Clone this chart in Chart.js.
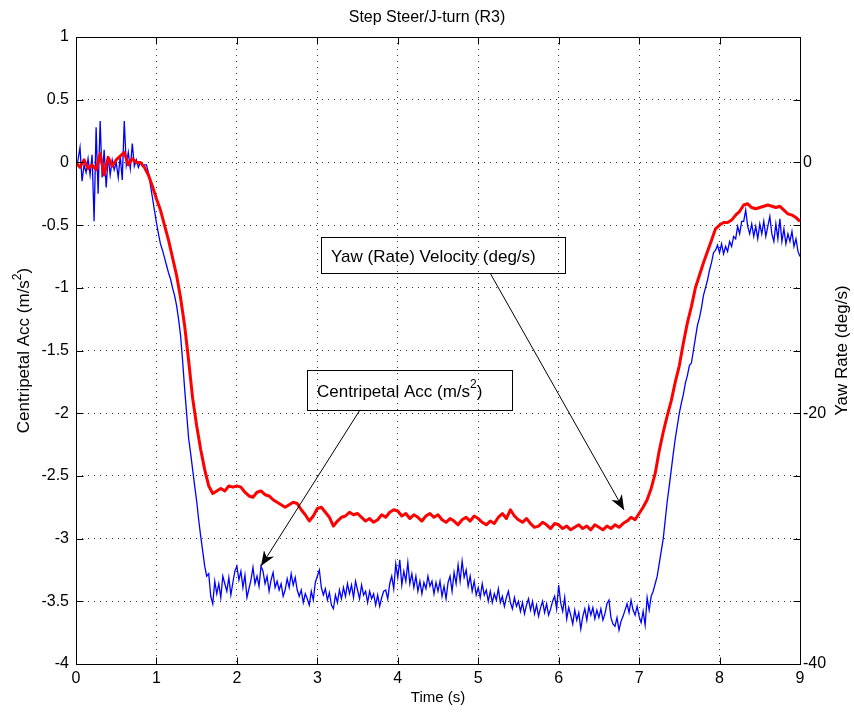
<!DOCTYPE html>
<html><head><meta charset="utf-8">
<script src="https://cdn.jsdelivr.net/npm/chart.js@4"></script>
<style>html,body{margin:0;padding:0;background:#fff}canvas{display:block}</style>
</head><body>
<canvas id="c" width="854" height="715"></canvas>
<script>
// ---------- data ----------
const chartTitle = 'Step Steer/J-turn (R3)';
const xTitle = 'Time (s)';
const yTitleParts = [{t:'Centripetal Acc (m/s'},{t:'2',sup:true},{t:')'}];
const y2Title = 'Yaw Rate (deg/s)';

const timeTicks = [0,1,2,3,4,5,6,7,8,9];
const accTicks = [-4,-3.5,-3,-2.5,-2,-1.5,-1,-0.5,0,0.5,1];
const yawTicks = [-40,-20,0];

// sampling intervals (s) of the two recorded channels
const accStep = 0.025;
const yawStep = 0.05;

// centripetal acceleration (m/s^2), one value every accStep seconds from t = 0
const accValues = [
-0.05,0.02,0.12,-0.15,-0.02,-0.08,0.03,-0.1,0.06,-0.47,0.28,-0.25,0.33,-0.12,0.1,-0.2,0.05,-0.1,0.02,-0.06,
0.0,-0.12,0.05,-0.14,0.33,-0.02,0.08,-0.05,0.15,-0.03,0.02,-0.04,0.0,-0.03,-0.02,-0.02,-0.08,-0.18,-0.28,-0.38,
-0.48,-0.57,-0.65,-0.7,-0.76,-0.82,-0.88,-0.93,-1.0,-1.06,-1.14,-1.25,-1.38,-1.58,-1.8,-2.0,-2.2,-2.32,-2.45,-2.58,
-2.7,-2.85,-2.98,-3.1,-3.22,-3.3,-3.28,-3.46,-3.52,-3.34,-3.44,-3.36,-3.47,-3.3,-3.36,-3.42,-3.31,-3.45,-3.35,-3.26,
-3.22,-3.33,-3.26,-3.39,-3.29,-3.47,-3.4,-3.33,-3.23,-3.36,-3.3,-3.38,-3.22,-3.26,-3.36,-3.3,-3.42,-3.33,-3.27,-3.39,
-3.34,-3.41,-3.36,-3.46,-3.41,-3.32,-3.39,-3.28,-3.37,-3.31,-3.41,-3.46,-3.41,-3.51,-3.44,-3.48,-3.53,-3.42,-3.49,-3.35,
-3.3,-3.25,-3.39,-3.45,-3.4,-3.49,-3.43,-3.53,-3.56,-3.45,-3.51,-3.41,-3.48,-3.39,-3.46,-3.36,-3.44,-3.37,-3.47,-3.34,
-3.41,-3.48,-3.37,-3.45,-3.42,-3.51,-3.42,-3.48,-3.44,-3.53,-3.45,-3.54,-3.47,-3.42,-3.41,-3.48,-3.36,-3.3,-3.4,-3.2,
-3.31,-3.17,-3.37,-3.26,-3.34,-3.19,-3.36,-3.28,-3.39,-3.3,-3.42,-3.34,-3.44,-3.35,-3.4,-3.3,-3.38,-3.34,-3.44,-3.35,
-3.42,-3.34,-3.46,-3.38,-3.48,-3.35,-3.3,-3.42,-3.27,-3.36,-3.21,-3.34,-3.18,-3.31,-3.25,-3.38,-3.3,-3.42,-3.34,-3.45,
-3.39,-3.47,-3.36,-3.45,-3.41,-3.5,-3.42,-3.51,-3.44,-3.49,-3.4,-3.51,-3.46,-3.54,-3.47,-3.42,-3.51,-3.56,-3.47,-3.54,
-3.5,-3.58,-3.51,-3.6,-3.53,-3.48,-3.57,-3.5,-3.6,-3.53,-3.62,-3.55,-3.5,-3.59,-3.52,-3.61,-3.56,-3.5,-3.46,-3.56,
-3.37,-3.51,-3.58,-3.47,-3.64,-3.55,-3.61,-3.68,-3.57,-3.65,-3.59,-3.72,-3.62,-3.56,-3.65,-3.54,-3.61,-3.55,-3.64,-3.57,
-3.63,-3.56,-3.65,-3.6,-3.52,-3.49,-3.63,-3.68,-3.7,-3.63,-3.73,-3.66,-3.62,-3.57,-3.52,-3.59,-3.49,-3.57,-3.61,-3.54,
-3.62,-3.67,-3.58,-3.69,-3.47,-3.57,-3.46,-3.42,-3.36,-3.3,-3.2,-3.1,-3.0,-2.85,-2.7,-2.58,-2.45,-2.32,-2.2,-2.1,
-2.0,-1.92,-1.85,-1.76,-1.7,-1.62,-1.6,-1.5,-1.4,-1.3,-1.24,-1.16,-1.06,-1.0,-0.94,-0.86,-0.8,-0.72,-0.7,-0.66,
-0.72,-0.65,-0.73,-0.67,-0.71,-0.63,-0.67,-0.59,-0.61,-0.51,-0.57,-0.47,-0.47,-0.38,-0.51,-0.57,-0.49,-0.59,-0.51,-0.61,
-0.49,-0.57,-0.47,-0.59,-0.51,-0.43,-0.57,-0.63,-0.49,-0.61,-0.45,-0.63,-0.53,-0.65,-0.57,-0.63,-0.55,-0.67,-0.61,-0.71,
-0.75
];

// yaw rate (deg/s), one value every yawStep seconds from t = 0
const yawValues = [
0.0,-0.4,0.2,-0.5,-0.2,-0.6,0.7,-1.0,0.4,-0.3,
0.2,0.5,0.8,-0.2,0.3,0.0,0.0,-0.4,-1.0,-1.9,
-2.9,-3.8,-5.0,-6.2,-7.6,-9.0,-10.8,-13.0,-15.8,-18.8,
-21.0,-22.9,-24.5,-25.8,-26.4,-26.2,-26.0,-26.2,-25.8,-25.9,
-25.8,-25.9,-26.3,-26.6,-26.7,-26.3,-26.2,-26.5,-26.6,-26.9,
-27.1,-27.3,-27.5,-27.3,-27.1,-27.2,-27.7,-28.1,-28.6,-28.2,
-27.6,-27.5,-27.9,-28.3,-29.0,-28.6,-28.3,-28.2,-27.9,-28.1,
-28.0,-28.3,-28.6,-28.4,-28.7,-28.5,-28.1,-28.3,-27.9,-27.7,
-27.8,-28.2,-28.0,-28.4,-28.1,-28.3,-28.6,-28.2,-28.0,-28.3,
-28.1,-28.5,-28.7,-28.4,-28.6,-28.9,-28.5,-28.3,-28.6,-28.2,
-28.4,-28.7,-28.9,-28.6,-28.8,-28.3,-28.0,-28.4,-27.7,-28.2,
-28.5,-28.7,-28.4,-28.8,-29.1,-29.0,-28.7,-28.9,-29.2,-28.8,
-28.9,-29.2,-29.0,-29.3,-29.1,-28.9,-29.2,-29.0,-29.3,-28.9,
-29.1,-29.3,-29.0,-29.2,-28.9,-29.1,-28.8,-28.6,-28.3,-28.5,
-28.0,-27.5,-26.9,-26.0,-24.8,-23.0,-21.5,-20.2,-19.0,-17.5,
-16.2,-14.4,-12.8,-11.5,-10.0,-9.0,-8.0,-7.1,-6.2,-5.3,
-5.0,-4.8,-4.8,-4.6,-4.2,-3.9,-3.4,-3.3,-3.6,-3.7,
-3.6,-3.5,-3.4,-3.5,-3.6,-3.5,-3.8,-4.1,-4.2,-4.4,
-4.7
];

// text-box annotations, placed in (time, acceleration) coordinates
const notes = [
  {parts:[{t:'Yaw (Rate) Velocity (deg/s)'}], box:[3.046,-0.595,6.079,-0.882], from:[5.147,-0.882], to:[6.813,-2.772]},
  {parts:[{t:'Centripetal Acc (m/s'},{t:'2',sup:true},{t:')'}], box:[2.872,-1.654,5.420,-1.973], from:[3.531,-1.973], to:[2.300,-3.219]}
];

// ---------- rendering ----------
const FONT = '"Liberation Sans", Arial, sans-serif';
const accData = accValues.map((v,i) => ({x: +(i*accStep).toFixed(3), y: v}));
const yawData = yawValues.map((v,i) => ({x: +(i*yawStep).toFixed(3), y: v}));

function drawRich(ctx, parts, x, y, size, align) {
  const f = size + 'px ' + FONT, sf = Math.round(size*0.7) + 'px ' + FONT;
  let w = 0;
  parts.forEach(p => { ctx.font = p.sup ? sf : f; p.w = ctx.measureText(p.t).width; w += p.w; });
  let cx = align === 'center' ? x - w/2 : x;
  ctx.textAlign = 'left'; ctx.textBaseline = 'middle';
  parts.forEach(p => { ctx.font = p.sup ? sf : f; ctx.fillText(p.t, cx, p.sup ? y - size*0.4 : y); cx += p.w; });
}
function arrow(ctx, x1, y1, x2, y2) {
  ctx.beginPath(); ctx.moveTo(x1, y1); ctx.lineTo(x2, y2); ctx.stroke();
  const a = Math.atan2(y2 - y1, x2 - x1), L = 15, W = 6, c = Math.cos(a), s = Math.sin(a);
  ctx.beginPath();
  ctx.moveTo(x2, y2);
  ctx.lineTo(x2 - L*c + W*s, y2 - L*s - W*c);
  ctx.lineTo(x2 - L*0.7*c, y2 - L*0.7*s);
  ctx.lineTo(x2 - L*c - W*s, y2 - L*s + W*c);
  ctx.closePath(); ctx.fill();
}
const al = v => Math.round(v) + 0.5;

const decor = {
  id: 'decor',
  afterDatasetsDraw(chart) {
    const {ctx, chartArea: a, scales} = chart;
    const xs = scales.x, ys = scales.y;
    ctx.save();
    ctx.strokeStyle = '#000'; ctx.fillStyle = '#000'; ctx.lineWidth = 1;
    ctx.strokeRect(al(a.left), al(a.top), al(a.right) - al(a.left), al(a.bottom) - al(a.top));
    ctx.beginPath();
    timeTicks.forEach(v => { const p = al(xs.getPixelForValue(v));
      ctx.moveTo(p, al(a.bottom)); ctx.lineTo(p, al(a.bottom) - 7);
      ctx.moveTo(p, al(a.top)); ctx.lineTo(p, al(a.top) + 7); });
    accTicks.forEach(v => { const p = al(ys.getPixelForValue(v));
      ctx.moveTo(al(a.left), p); ctx.lineTo(al(a.left) + 7, p);
      ctx.moveTo(al(a.right), p); ctx.lineTo(al(a.right) - 7, p); });
    ctx.stroke();
    notes.forEach(n => {
      const x1 = xs.getPixelForValue(n.box[0]), y1 = ys.getPixelForValue(n.box[1]);
      const x2 = xs.getPixelForValue(n.box[2]), y2 = ys.getPixelForValue(n.box[3]);
      ctx.strokeRect(al(x1), al(y1), al(x2) - al(x1), al(y2) - al(y1));
      drawRich(ctx, n.parts, x1 + 10, (y1 + y2)/2 + 2, 17, 'left');
      arrow(ctx, xs.getPixelForValue(n.from[0]), ys.getPixelForValue(n.from[1]),
                 xs.getPixelForValue(n.to[0]), ys.getPixelForValue(n.to[1]));
    });
    ctx.restore();
  },
  afterDraw(chart) {
    const {ctx, chartArea: a} = chart;
    ctx.save();
    ctx.fillStyle = '#000';
    drawRich(ctx, [{t:xTitle}], (a.left + a.right)/2, 698, 15, 'center');
    const cy = (a.top + a.bottom)/2;
    ctx.translate(24, cy); ctx.rotate(-Math.PI/2);
    drawRich(ctx, yTitleParts, 0, 0, 17, 'center');
    ctx.setTransform(1,0,0,1,0,0);
    ctx.translate(842, cy); ctx.rotate(-Math.PI/2);
    drawRich(ctx, [{t:y2Title}], 0, 0, 17, 'center');
    ctx.restore();
  }
};

const tickFont = {family: FONT, size: 16};
new Chart(document.getElementById('c'), {
  type: 'line',
  data: {
    datasets: [
      {label: 'Yaw Rate', data: yawData, yAxisID: 'y2', borderColor: '#ff0000', borderWidth: 3, pointRadius: 0, tension: 0, borderJoinStyle: 'round'},
      {label: 'Centripetal Acc', data: accData, yAxisID: 'y', borderColor: '#0000ff', borderWidth: 1.3, pointRadius: 0, tension: 0}
    ]
  },
  options: {
    responsive: false, animation: false, devicePixelRatio: 1,
    layout: {padding: 0},
    plugins: {
      legend: {display: false}, tooltip: {enabled: false},
      title: {display: true, text: chartTitle, color: '#000', font: {family: FONT, size: 16, weight: 'normal', lineHeight: 1.125}, padding: {top: 9, bottom: 10}}
    },
    scales: {
      x: {
        type: 'linear', min: 0, max: 9,
        afterBuildTicks: s => { s.ticks = timeTicks.map(v => ({value: v})); },
        afterFit: s => { s.height = 51; },
        ticks: {color: '#000', font: tickFont, padding: 5, maxRotation: 0, callback: v => String(v)},
        grid: {color: '#333', lineWidth: 1, drawTicks: false},
        border: {display: false, dash: [1, 5]}
      },
      y: {
        type: 'linear', position: 'left', min: -4, max: 1,
        afterBuildTicks: s => { s.ticks = accTicks.map(v => ({value: v})); },
        afterFit: s => { s.width = 76; },
        ticks: {color: '#000', font: tickFont, padding: 7, callback: v => String(v)},
        grid: {color: '#333', lineWidth: 1, drawTicks: false},
        border: {display: false, dash: [1, 5]}
      },
      y2: {
        type: 'linear', position: 'right', min: -40, max: 10,
        afterBuildTicks: s => { s.ticks = yawTicks.map(v => ({value: v})); },
        afterFit: s => { s.width = 54; },
        ticks: {color: '#000', font: tickFont, padding: 3, callback: v => String(v)},
        grid: {display: false, drawTicks: false},
        border: {display: false}
      }
    }
  },
  plugins: [decor]
});
</script>
</body></html>
